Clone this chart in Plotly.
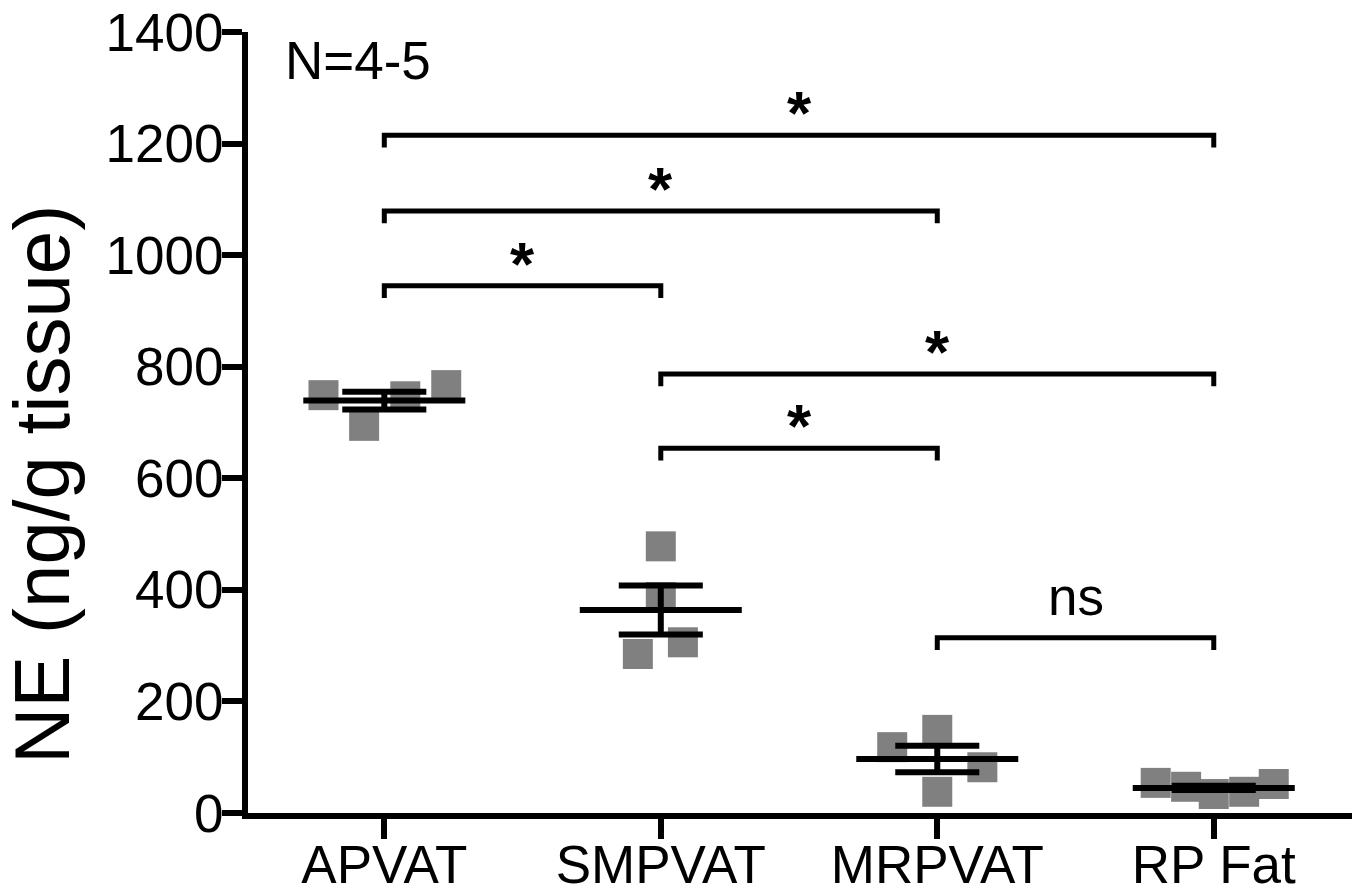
import numpy as np
import plotly.graph_objects as go

categories = ["APVAT", "SMPVAT", "MRPVAT", "RP Fat"]
values = [
    [749, 694, 747, 767],
    [478, 387, 285, 306],
    [118, 149, 82, 38],
    [54, 47, 34, 38, 52],
]
x_offsets = [
    [-0.22, -0.073, 0.076, 0.224],
    [0.0, 0.0, -0.083, 0.08],
    [-0.163, 0.0, 0.163, 0.0],
    [-0.21, -0.10, 0.0, 0.11, 0.217],
]
y_ticks = [0, 200, 400, 600, 800, 1000, 1200, 1400]
brackets = [
    (0, 3, 1215, "*"),
    (0, 2, 1079, "*"),
    (0, 1, 945, "*"),
    (1, 3, 787, "*"),
    (1, 2, 654, "*"),
    (2, 3, 314, "ns"),
]
n_label = "N=4-5"
y_title = "NE (ng/g tissue)"

FONT = "Arial, Liberation Sans, sans-serif"
L, R, T, B = 248, 5, 32, 77
W, H = 1357, 890
PW, PH = W - L - R, H - T - B

fig = go.Figure()

# points
for i, (vals, offs) in enumerate(zip(values, x_offsets)):
    fig.add_trace(go.Scatter(
        x=[i + o for o in offs], y=vals, mode="markers",
        marker=dict(symbol="square", size=30, color="#808080", line=dict(width=0)),
        showlegend=False, hoverinfo="skip"))

# mean and SEM
MW, CW = 0.293, 0.152
for i, vals in enumerate(values):
    v = np.array(vals, dtype=float)
    m = v.mean()
    s = v.std(ddof=1) / np.sqrt(len(v))
    ln = dict(color="black", width=6)
    fig.add_trace(go.Scatter(x=[i - MW, i + MW], y=[m, m], mode="lines", line=ln,
                             showlegend=False, hoverinfo="skip"))
    fig.add_trace(go.Scatter(x=[i - CW, i + CW, None, i - CW, i + CW, None, i, i],
                             y=[m + s, m + s, None, m - s, m - s, None, m - s, m + s],
                             mode="lines", line=ln, showlegend=False, hoverinfo="skip"))

# significance brackets
DROP = 22
for a, b, h, lab in brackets:
    fig.add_trace(go.Scatter(x=[a, a, b, b], y=[h - DROP, h, h, h - DROP], mode="lines",
                             line=dict(color="black", width=5), showlegend=False,
                             hoverinfo="skip"))
    if lab == "*":
        fig.add_annotation(x=(a + b) / 2, y=h, text="<b>*</b>", showarrow=False,
                           yanchor="bottom", yshift=-14,
                           font=dict(family=FONT, size=62, color="black"))
    else:
        fig.add_annotation(x=(a + b) / 2, y=h, text=lab, showarrow=False,
                           yanchor="bottom", yshift=10,
                           font=dict(family=FONT, size=53, color="black"))

fig.add_annotation(xref="x domain", yref="y domain", x=(283 - L) / PW,
                   y=(H - B - 60) / PH, text=n_label,
                   showarrow=False, xanchor="left", yanchor="middle",
                   font=dict(family=FONT, size=53, color="black"))

fig.add_annotation(xref="paper", yref="paper", x=(42 - L) / PW, y=(H - B - 485) / PH,
                   text=y_title, textangle=-90, showarrow=False,
                   xanchor="center", yanchor="middle",
                   font=dict(family=FONT, size=78, color="black"))

axis_common = dict(showgrid=False, zeroline=False, automargin=False,
                   showline=True, linewidth=6, linecolor="black",
                   ticks="outside", ticklen=20, tickwidth=6, tickcolor="black",
                   tickfont=dict(family=FONT, size=53, color="black"))
fig.update_layout(
    width=W, height=H,
    margin=dict(l=L, r=R, t=T, b=B, autoexpand=False),
    plot_bgcolor="white", paper_bgcolor="white",
    font=dict(family=FONT, color="black"),
    xaxis=dict(range=[-0.493, 3.5], tickvals=list(range(len(categories))),
               ticktext=categories, ticklabelstandoff=-20, **axis_common),
    yaxis=dict(range=[0, 1400], tickvals=y_ticks, ticklabelstandoff=-12, **axis_common),
)

fig.write_html("out.html", config={"displayModeBar": False},
               post_script="document.body.style.margin='0px';"
                           "document.body.style.overflow='hidden';")
